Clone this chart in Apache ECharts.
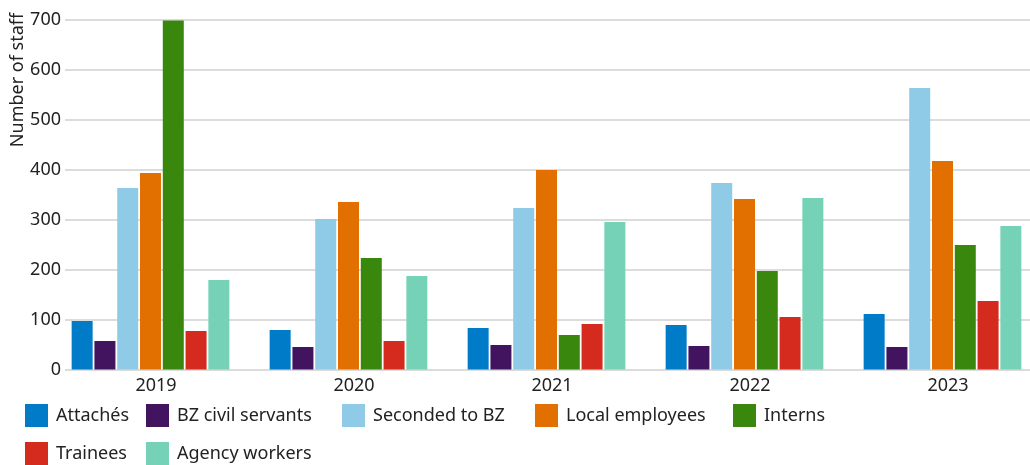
<!DOCTYPE html>
<html>
<head>
<meta charset="utf-8">
<script src="https://cdn.jsdelivr.net/npm/echarts@6/dist/echarts.min.js"></script>
<style>
  html, body { margin: 0; padding: 0; background: #fff; }
  #main { width: 1030px; height: 465px; }
</style>
</head>
<body>
<div id="main"></div>
<script>
var years = ["2019", "2020", "2021", "2022", "2023"];
var yTicks = [0, 100, 200, 300, 400, 500, 600, 700];

var attaches = [97, 79, 83, 89, 111];
var bzCivilServants = [57, 45, 49, 47, 45];
var secondedToBZ = [363, 301, 323, 373, 563];
var localEmployees = [393, 335, 399, 341, 417];
var interns = [698, 223, 69, 197, 249];
var trainees = [77, 57, 91, 105, 137];
var agencyWorkers = [179, 187, 295, 343, 287];

var names = ["Attachés", "BZ civil servants", "Seconded to BZ", "Local employees", "Interns", "Trainees", "Agency workers"];
var values = [attaches, bzCivilServants, secondedToBZ, localEmployees, interns, trainees, agencyWorkers];
var colors = ["#007bc7", "#42145f", "#8fcae7", "#e17000", "#39870c", "#d52b1e", "#76d2b6"];

// legend positions (left, top) per item
var legendPos = [[25, 404], [146, 404], [342, 404], [535, 404], [733, 404], [25, 442], [146, 442]];

var font = "'Noto Sans', sans-serif";
var myChart = echarts.init(document.getElementById("main"));

var series = names.map(function (n, i) {
    return {
        name: n,
        type: "bar",
        xAxisIndex: 0,
        yAxisIndex: 0,
        data: values[i],
        barWidth: 21,
        barGap: "8.5%",
        itemStyle: { color: colors[i] },
    };
});

var legends = names.map(function (n, i) {
    return {
        data: [n],
        left: legendPos[i][0],
        top: legendPos[i][1],
        icon: "rect",
        itemWidth: 23,
        itemHeight: 23,
        padding: 0,
        textStyle: {
            fontFamily: font,
            fontSize: 18,
            color: "#222",
            padding: [0, 0, 0, 3],
        },
    };
});

var option = {
    animation: false,
    backgroundColor: "#fff",
    grid: [
        // bars
        { left: 51.5, width: 990, top: 19.5, bottom: 95.5, outerBoundsMode: "none" },
        // gridlines
        { left: 65, right: 0, top: 19.5, bottom: 95.5, outerBoundsMode: "none" },
        // year labels
        { left: 57, width: 990, top: 19.5, bottom: 95.5, outerBoundsMode: "none" },
    ],
    xAxis: [
        {
            type: "category",
            gridIndex: 0,
            data: years,
            show: false,
        },
        {
            type: "category",
            gridIndex: 1,
            data: years,
            show: false,
        },
        {
            type: "category",
            gridIndex: 2,
            data: years,
            axisLine: { show: false },
            axisTick: { show: false },
            axisLabel: {
                fontFamily: font,
                fontSize: 18,
                color: "#222",
                margin: 7,
            },
        },
    ],
    yAxis: [
        {
            type: "value",
            gridIndex: 0,
            min: 0,
            max: 700,
            interval: 100,
            show: false,
        },
        {
            type: "value",
            gridIndex: 1,
            min: yTicks[0],
            max: yTicks[yTicks.length - 1],
            interval: 100,
            axisLine: { show: false },
            axisTick: { show: false },
            axisLabel: {
                fontFamily: font,
                fontSize: 18,
                color: "#222",
                margin: 4,
            },
            splitLine: {
                lineStyle: { color: "#d0d0d0", width: 1.5 },
            },
        },
        {
            type: "value",
            gridIndex: 2,
            min: 0,
            max: 700,
            interval: 100,
            show: false,
        },
    ],
    legend: legends,
    graphic: [
        {
            type: "text",
            x: 18,
            y: 80,
            rotation: Math.PI / 2,
            style: {
                text: "Number of staff",
                fontFamily: font,
                fontSize: 18,
                fill: "#222",
                textAlign: "center",
                textVerticalAlign: "middle",
            },
        },
    ],
    series: series,
};
myChart.setOption(option);
</script>
</body>
</html>
